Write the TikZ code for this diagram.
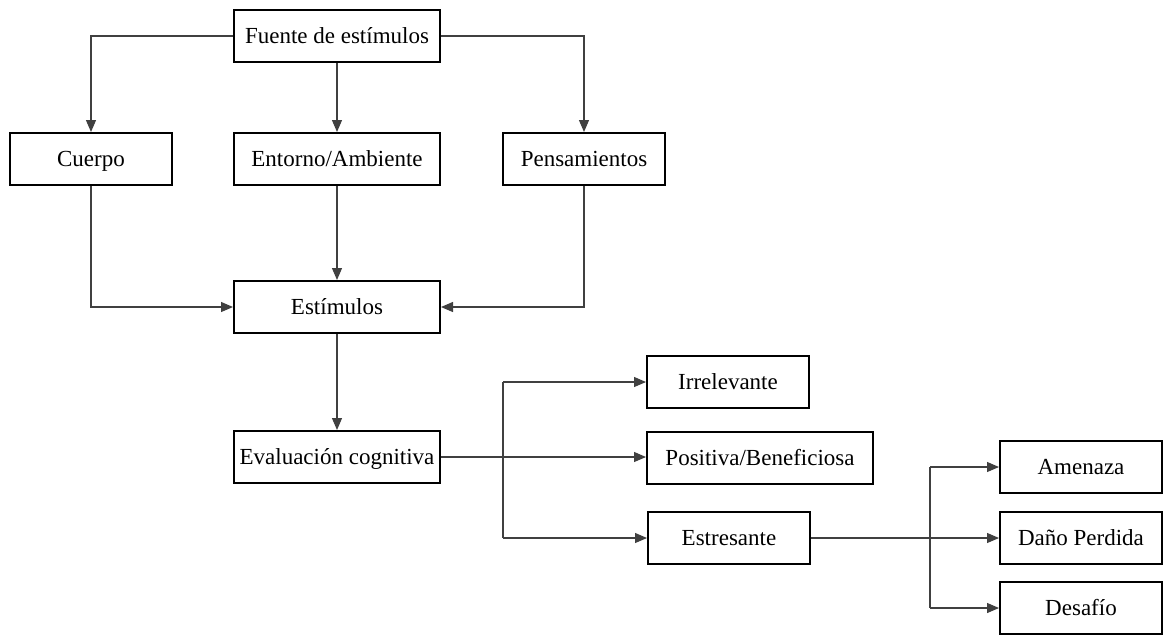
\documentclass[tikz,border=0pt]{standalone}
\usepackage{fontspec}
\setmainfont{Liberation Serif}
\usepackage{tikz}
\usetikzlibrary{arrows.meta,positioning}
\tikzset{
caja/.style = {draw=black, line width=1pt, rectangle, align=center, inner sep=0pt,
minimum height=26pt, text height=9.2pt, text depth=2pt,
font=\fontsize{11.5}{13}\selectfont},% caja normal
caja_a/.style = {caja, minimum width=103pt},% caja ancha
caja_c/.style = {caja, minimum width=81pt},% caja corta
linea/.style = {draw=black!75, line width=0.6pt},
flecha/.style = {linea, -{Triangle[length=6pt,width=5pt]}}
}
\begin{document}
\begin{tikzpicture}[x=0.5pt,y=-0.5pt]
  \useasboundingbox (0,0) rectangle (1168,634);
  % fila de arriba
  \node [caja_a] (fuente) at (337,36) {Fuente de estímulos};
  \node [caja_c] (cuerpo) at (91,159) {Cuerpo};
  \node [caja_a] (entorno) at (337,159) {Entorno/Ambiente};
  \node [caja_c] (pensam) at (584,159) {Pensamientos};
  \node [caja_a] (estim) at (337,307) {Estímulos};
  \node [caja_a] (evalc) at (337,457) {Evaluación cognitiva};
  % evaluacion
  \node [caja_c] (irrel) at (728,382) {Irrelevante};
  \node [caja, minimum width=113pt] (posit) at (760,458) {Positiva/Beneficiosa};
  \node [caja_c] (estres) at (729,538) {Estresante};
  % estresante
  \node [caja_c] (amen) at (1081,467) {Amenaza};
  \node [caja_c] (dano) at (1081,538) {Daño Perdida};
  \node [caja_c] (desaf) at (1081,608) {Desafío};
  \coordinate (ramaA) at (503,0);
  \coordinate (ramaB) at (930,0);

  \draw [flecha] (fuente.west) -| (cuerpo.north);
  \draw [flecha] (fuente) -- (entorno);
  \draw [flecha] (fuente.east) -| (pensam.north);
  \draw [flecha] (cuerpo.south) |- (estim.west);
  \draw [flecha] (entorno) -- (estim);
  \draw [flecha] (pensam.south) |- (estim.east);
  \draw [flecha] (estim) -- (evalc);
  \draw [flecha] (evalc.east) -- (evalc.east -| posit.west);
  \draw [linea] (ramaA |- irrel) -- (ramaA |- estres);
  \draw [flecha] (ramaA |- irrel) -- (irrel.west);
  \draw [flecha] (ramaA |- estres) -- (estres.west);
  \draw [flecha] (estres.east) -- (dano.west);
  \draw [linea] (ramaB |- amen) -- (ramaB |- desaf);
  \draw [flecha] (ramaB |- amen) -- (amen.west);
  \draw [flecha] (ramaB |- desaf) -- (desaf.west);
\end{tikzpicture}
\end{document}
